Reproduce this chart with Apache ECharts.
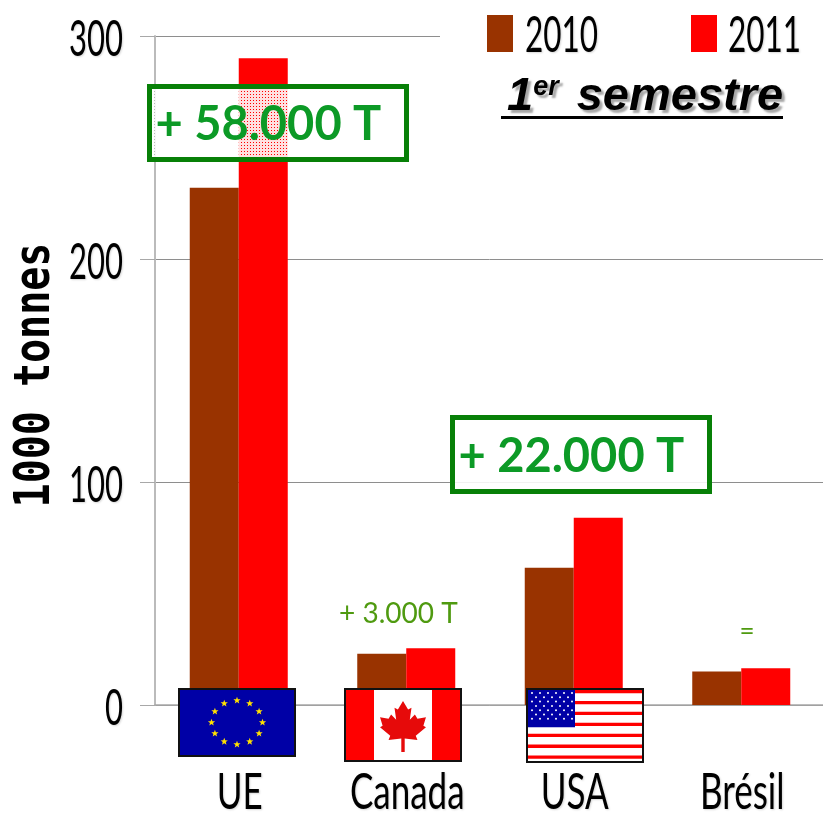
<!DOCTYPE html>
<html><head><meta charset="utf-8">
<script src="https://cdn.jsdelivr.net/npm/echarts@6/dist/echarts.min.js"></script>
<style>html,body{margin:0;padding:0;background:#fff}#c{width:823px;height:813px}</style>
</head><body><div id="c"></div>
<script>
const categories = ['UE', 'Canada', 'USA', 'Brésil'];
const values2010 = [232, 23, 61.5, 15];
const values2011 = [290, 25.5, 84, 16.5];
const yTickValues = [0, 100, 200, 300];
const seriesNames = ['2010', '2011'];
const GREEN = '#0c9a26', BOX = '#078007';
const SHADOW = { textShadowColor: 'rgba(0,0,0,0.16)', textShadowBlur: 2, textShadowOffsetX: 1, textShadowOffsetY: 1 };

function starPts(cx, cy, r) {
  const p = [];
  for (let i = 0; i < 10; i++) {
    const a = -Math.PI / 2 + i * Math.PI / 5, q = i % 2 ? r * 0.42 : r;
    p.push([cx + q * Math.cos(a), cy + q * Math.sin(a)]);
  }
  return p;
}
function rect(x, y, w, h, fill, z, extra) {
  return Object.assign({ type: 'rect', silent: true, z: z || 20, shape: { x, y, width: w, height: h }, style: { fill } }, extra || {});
}
function euFlag() {
  const x = 179, y = 689, w = 116, h = 67, out = [rect(x, y, w, h, '#0000a6', 20, { style: { fill: '#0000a6', stroke: '#111', lineWidth: 2 } })];
  for (let i = 0; i < 12; i++) {
    const a = i * Math.PI / 6;
    out.push({ type: 'polygon', silent: true, z: 21, shape: { points: starPts(x + 58 + 25.5 * Math.sin(a), y + 33.5 - 22 * Math.cos(a), 3.8) }, style: { fill: '#ffe000' } });
  }
  return out;
}
function caFlag() {
  const x = 345, y = 689, w = 116, h = 72, cx = x + 58, t = y + 12;
  const leaf = [[0,0],[6,10],[10,8],[8,22],[14,16],[17,21],[27,19],[24,29],[27,31],[15,41],[17,46],[2,44],[2,60],[-2,60],[-2,44],[-17,46],[-15,41],[-27,31],[-24,29],[-27,19],[-17,21],[-14,16],[-8,22],[-10,8],[-6,10]]
    .map(p => [cx + p[0] * 0.85, t + p[1] * 0.85]);
  return [
    rect(x, y, w, h, '#fff', 20, { style: { fill: '#fff', stroke: '#111', lineWidth: 2 } }),
    rect(x + 1, y + 1, 28, h - 2, '#ff0000', 21),
    rect(x + w - 29, y + 1, 28, h - 2, '#ff0000', 21),
    { type: 'polygon', silent: true, z: 21, shape: { points: leaf }, style: { fill: '#e60a0a' } }
  ];
}
function usFlag() {
  const x = 527, y = 689, w = 116, h = 73, out = [rect(x, y, w, h, '#fff', 20, { style: { fill: '#fff', stroke: '#111', lineWidth: 2 } })];
  const sh = (h - 2) / 13;
  for (let i = 0; i < 13; i += 2) out.push(rect(x + 1, y + 1 + i * sh, w - 2, sh * 0.6, '#ff0000', 21));
  out.push(rect(x + 1, y + 1, 47, sh * 7 - 1, '#0000a6', 22));
  for (let r = 0; r < 7; r++) for (let c = 0; c < (r % 2 ? 5 : 6); c++) {
    out.push({ type: 'circle', silent: true, z: 23, shape: { cx: x + 5 + c * 8 + (r % 2 ? 4 : 0), cy: y + 4 + r * 4.3, r: 1 }, style: { fill: '#fff' } });
  }
  return out;
}
function veil() {
  const c = document.createElement('canvas'); c.width = 3; c.height = 3;
  const g = c.getContext('2d');
  g.fillStyle = 'rgba(255,255,255,0.88)'; g.fillRect(0, 0, 3, 3);
  g.clearRect(1, 1, 1, 1);
  return { image: c, repeat: 'repeat' };
}
function box(x, y, w, h, label) {
  return [
    rect(x, y, w, h, '#fff', 15, { style: { fill: veil(), stroke: BOX, lineWidth: 5 } }),
    { type: 'text', silent: true, z: 16, x: x + 6, y: y + h / 2 + 2, style: { text: label, fill: GREEN, font: 'bold 47px Lato', textVerticalAlign: 'middle' } }
  ];
}
function squeezed(text, x, y, align, sx, size, z) {
  return { type: 'text', silent: true, z: z || 12, x, y, scaleX: sx,
    style: Object.assign({ text, fill: '#000', font: (size || 50) + 'px Lato', textAlign: align, textVerticalAlign: 'middle' }, SHADOW) };
}
const chart = echarts.init(document.getElementById('c'), null, { renderer: 'canvas' });
chart.setOption({
  animation: false,
  grid: { left: 155, right: -2, top: 36, bottom: 108, containLabel: false, outerBoundsMode: 'none' },
  legend: {
    left: 487, top: 15, itemWidth: 26, itemHeight: 37, itemGap: 178, icon: 'rect', padding: 0,
    data: seriesNames, z: 30, formatter: () => '',
    textStyle: { padding: 0, fontSize: 1 }
  },
  xAxis: {
    type: 'category', data: categories,
    axisLine: { lineStyle: { color: '#a8a8a8', width: 1.5 } },
    axisTick: { length: 18, lineStyle: { color: '#b0b0b0', width: 2 } },
    axisLabel: { show: false }
  },
  yAxis: {
    type: 'value', min: yTickValues[0], max: yTickValues[yTickValues.length - 1], interval: yTickValues[1] - yTickValues[0],
    axisLine: { show: true, lineStyle: { color: '#bbb', width: 2 } },
    axisTick: { show: true, length: 15, lineStyle: { color: '#a8a8a8', width: 1 } },
    splitLine: { lineStyle: { color: '#8e8e8e', width: 1 } },
    axisLabel: { show: false }
  },
  series: [
    { name: seriesNames[0], type: 'bar', data: values2010, barWidth: 49, barGap: '0%', itemStyle: { color: '#993300' } },
    { name: seriesNames[1], type: 'bar', data: values2011, barWidth: 49, barGap: '0%', itemStyle: { color: '#ff0000' } }
  ]
});
const yLabels = yTickValues.map(v => squeezed(String(v), 123, chart.convertToPixel({ yAxisIndex: 0 }, v) + 3.5, 'right', 0.62));
const xLabels = categories.map(c => squeezed(c, chart.convertToPixel({ xAxisIndex: 0 }, c) + 1, 793, 'center', 0.7));
chart.setOption({
  graphic: [
    rect(440, 30, 385, 12, '#fff', 5),
    ...yLabels, ...xLabels,
    { type: 'text', silent: true, z: 12, x: 36, y: 375, rotation: Math.PI / 2, scaleY: 1.25,
      style: { text: '1000 tonnes', fill: '#000', font: 'bold 40px "DejaVu Sans Mono"', textAlign: 'center', textVerticalAlign: 'middle' } },
    squeezed(seriesNames[0], 525, 36, 'left', 0.63, 50, 31),
    squeezed(seriesNames[1], 728, 36, 'left', 0.63, 50, 31),
    ...box(149.5, 86.5, 257, 73, '+ 58.000 T'),
    ...box(452.5, 417.5, 257, 74, '+ 22.000 T'),
    { type: 'text', silent: true, z: 16, x: 339, y: 614, style: { text: '+ 3.000 T', fill: '#4f9a10', font: '28px Lato', textVerticalAlign: 'middle' } },
    { type: 'text', silent: true, z: 16, x: 747, y: 632, style: { text: '=', fill: '#4f9a10', font: '26px Lato', textAlign: 'center', textVerticalAlign: 'middle' } },
    { type: 'text', silent: true, z: 31, x: 507, y: 74, style: { text: '1{s|er} semestre', fill: '#000', font: 'italic bold 47px "Liberation Sans"', textShadowColor: 'rgba(0,0,0,0.35)', textShadowBlur: 2, textShadowOffsetX: 3, textShadowOffsetY: 3,
        rich: { s: { font: 'italic bold 27px "Liberation Sans"', fill: '#000', verticalAlign: 'top', padding: [0,5,14,0] } } } },
    rect(501, 116, 282, 3, '#000', 31),
    ...euFlag(), ...caFlag(), ...usFlag()
  ]
});
</script></body></html>
